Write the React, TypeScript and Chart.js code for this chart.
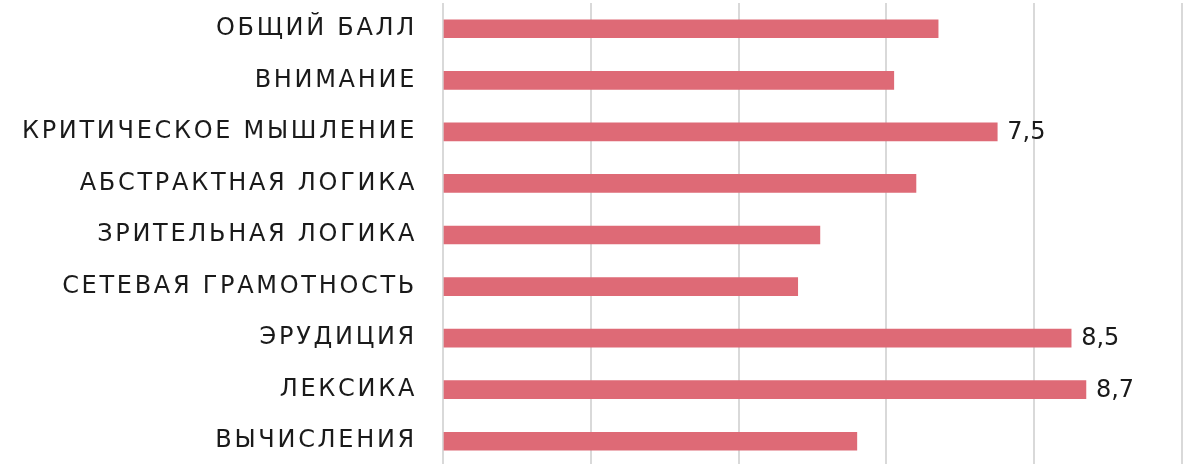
import React, { useEffect, useRef } from "react";
import { Chart, registerables } from "chart.js";

Chart.register(...registerables);

const categories = [
  "ОБЩИЙ БАЛЛ",
  "ВНИМАНИЕ",
  "КРИТИЧЕСКОЕ МЫШЛЕНИЕ",
  "АБСТРАКТНАЯ ЛОГИКА",
  "ЗРИТЕЛЬНАЯ ЛОГИКА",
  "СЕТЕВАЯ ГРАМОТНОСТЬ",
  "ЭРУДИЦИЯ",
  "ЛЕКСИКА",
  "ВЫЧИСЛЕНИЯ",
];
const scores = [6.7, 6.1, 7.5, 6.4, 5.1, 4.8, 8.5, 8.7, 5.6];
const labelShown = [false, false, true, false, false, false, true, true, false];
const axisMin = 0;
const axisMax = 10;
const axisStep = 2;

const FONT = "'DejaVu Sans', sans-serif";

const spacingPlugin = {
  id: "spacing",
  beforeDraw(chart: any) {
    (chart.ctx as any).letterSpacing = "2.7px";
  },
  afterDraw(chart: any) {
    (chart.ctx as any).letterSpacing = "0px";
  },
};

const valueLabels = {
  id: "valueLabels",
  afterDatasetsDraw(chart: any) {
    const ctx = chart.ctx;
    const meta = chart.getDatasetMeta(0);
    ctx.save();
    (ctx as any).letterSpacing = "0px";
    ctx.font = `24px ${FONT}`;
    ctx.fillStyle = "#1a1a1a";
    ctx.textAlign = "left";
    ctx.textBaseline = "middle";
    meta.data.forEach((el: any, i: number) => {
      if (!labelShown[i]) return;
      const txt = scores[i].toFixed(1).replace(".", ",");
      ctx.fillText(txt, el.x + 10, el.y + 1);
    });
    ctx.restore();
  },
};

export default function App() {
  const ref = useRef<HTMLCanvasElement>(null);
  useEffect(() => {
    document.body.style.margin = "0";
    const chart = new Chart(ref.current!, {
      type: "bar",
      data: {
        labels: categories,
        datasets: [
          {
            data: scores,
            backgroundColor: "#de6a76",
            barThickness: 18,
          },
        ],
      },
      options: {
        indexAxis: "y",
        animation: false,
        responsive: false,
        layout: { padding: { top: 3, right: 1, bottom: 0, left: 0 } },
        plugins: { legend: { display: false }, tooltip: { enabled: false } },
        scales: {
          x: {
            min: axisMin,
            max: axisMax,
            ticks: { display: false, stepSize: axisStep },
            grid: { color: "#d9d9d9", lineWidth: 2, drawTicks: false },
            border: { display: false },
            afterFit(scale: any) {
              scale.height = 0;
              scale.paddingLeft = 0;
              scale.paddingRight = 0;
            },
          },
          y: {
            grid: { display: false, drawTicks: false },
            border: { display: false },
            ticks: {
              color: "#1a1a1a",
              font: { family: FONT, size: 24 },
              padding: 26,
            },
            afterFit(scale: any) {
              scale.width = 443;
              scale.paddingTop = 0;
              scale.paddingBottom = 0;
            },
          },
        },
      },
      plugins: [spacingPlugin, valueLabels],
    });
    return () => chart.destroy();
  }, []);
  return (
    <div style={{ width: 1183, height: 464, overflow: "hidden" }}>
      <canvas ref={ref} width={1183} height={467} style={{ display: "block" }} />
    </div>
  );
}
